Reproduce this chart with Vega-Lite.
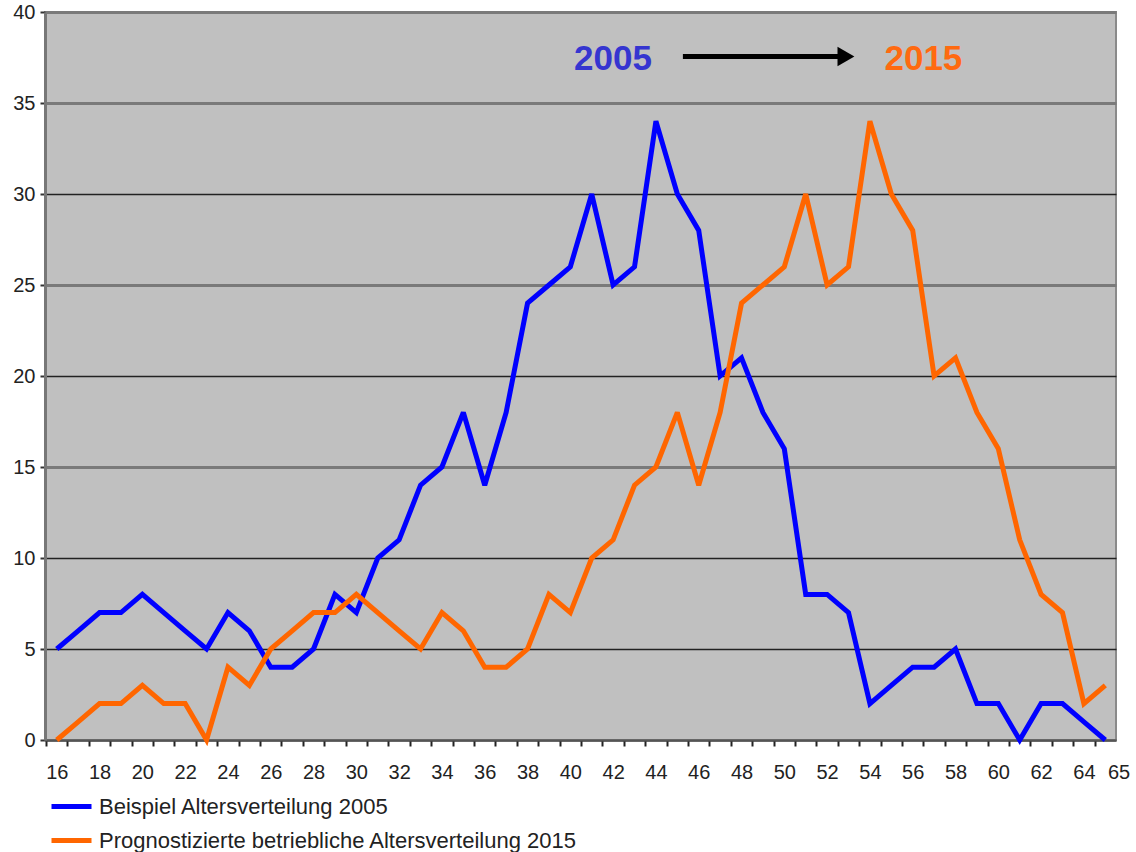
{
  "$schema": "https://vega.github.io/schema/vega-lite/v6.json",
  "width": 1071,
  "height": 728,
  "autosize": "none",
  "padding": {"left": 45, "top": 12, "right": 20, "bottom": 112},
  "background": "white",
  "config": {
    "font": "Liberation Sans",
    "view": {"fill": "#c0c0c0", "stroke": "#8a8a8a", "strokeWidth": 2}
  },
  "datasets": {
    "reihen": [
      {"alter":16,"anzahl":5,"reihe":"Beispiel Altersverteilung 2005"},
      {"alter":17,"anzahl":6,"reihe":"Beispiel Altersverteilung 2005"},
      {"alter":18,"anzahl":7,"reihe":"Beispiel Altersverteilung 2005"},
      {"alter":19,"anzahl":7,"reihe":"Beispiel Altersverteilung 2005"},
      {"alter":20,"anzahl":8,"reihe":"Beispiel Altersverteilung 2005"},
      {"alter":21,"anzahl":7,"reihe":"Beispiel Altersverteilung 2005"},
      {"alter":22,"anzahl":6,"reihe":"Beispiel Altersverteilung 2005"},
      {"alter":23,"anzahl":5,"reihe":"Beispiel Altersverteilung 2005"},
      {"alter":24,"anzahl":7,"reihe":"Beispiel Altersverteilung 2005"},
      {"alter":25,"anzahl":6,"reihe":"Beispiel Altersverteilung 2005"},
      {"alter":26,"anzahl":4,"reihe":"Beispiel Altersverteilung 2005"},
      {"alter":27,"anzahl":4,"reihe":"Beispiel Altersverteilung 2005"},
      {"alter":28,"anzahl":5,"reihe":"Beispiel Altersverteilung 2005"},
      {"alter":29,"anzahl":8,"reihe":"Beispiel Altersverteilung 2005"},
      {"alter":30,"anzahl":7,"reihe":"Beispiel Altersverteilung 2005"},
      {"alter":31,"anzahl":10,"reihe":"Beispiel Altersverteilung 2005"},
      {"alter":32,"anzahl":11,"reihe":"Beispiel Altersverteilung 2005"},
      {"alter":33,"anzahl":14,"reihe":"Beispiel Altersverteilung 2005"},
      {"alter":34,"anzahl":15,"reihe":"Beispiel Altersverteilung 2005"},
      {"alter":35,"anzahl":18,"reihe":"Beispiel Altersverteilung 2005"},
      {"alter":36,"anzahl":14,"reihe":"Beispiel Altersverteilung 2005"},
      {"alter":37,"anzahl":18,"reihe":"Beispiel Altersverteilung 2005"},
      {"alter":38,"anzahl":24,"reihe":"Beispiel Altersverteilung 2005"},
      {"alter":39,"anzahl":25,"reihe":"Beispiel Altersverteilung 2005"},
      {"alter":40,"anzahl":26,"reihe":"Beispiel Altersverteilung 2005"},
      {"alter":41,"anzahl":30,"reihe":"Beispiel Altersverteilung 2005"},
      {"alter":42,"anzahl":25,"reihe":"Beispiel Altersverteilung 2005"},
      {"alter":43,"anzahl":26,"reihe":"Beispiel Altersverteilung 2005"},
      {"alter":44,"anzahl":34,"reihe":"Beispiel Altersverteilung 2005"},
      {"alter":45,"anzahl":30,"reihe":"Beispiel Altersverteilung 2005"},
      {"alter":46,"anzahl":28,"reihe":"Beispiel Altersverteilung 2005"},
      {"alter":47,"anzahl":20,"reihe":"Beispiel Altersverteilung 2005"},
      {"alter":48,"anzahl":21,"reihe":"Beispiel Altersverteilung 2005"},
      {"alter":49,"anzahl":18,"reihe":"Beispiel Altersverteilung 2005"},
      {"alter":50,"anzahl":16,"reihe":"Beispiel Altersverteilung 2005"},
      {"alter":51,"anzahl":8,"reihe":"Beispiel Altersverteilung 2005"},
      {"alter":52,"anzahl":8,"reihe":"Beispiel Altersverteilung 2005"},
      {"alter":53,"anzahl":7,"reihe":"Beispiel Altersverteilung 2005"},
      {"alter":54,"anzahl":2,"reihe":"Beispiel Altersverteilung 2005"},
      {"alter":55,"anzahl":3,"reihe":"Beispiel Altersverteilung 2005"},
      {"alter":56,"anzahl":4,"reihe":"Beispiel Altersverteilung 2005"},
      {"alter":57,"anzahl":4,"reihe":"Beispiel Altersverteilung 2005"},
      {"alter":58,"anzahl":5,"reihe":"Beispiel Altersverteilung 2005"},
      {"alter":59,"anzahl":2,"reihe":"Beispiel Altersverteilung 2005"},
      {"alter":60,"anzahl":2,"reihe":"Beispiel Altersverteilung 2005"},
      {"alter":61,"anzahl":0,"reihe":"Beispiel Altersverteilung 2005"},
      {"alter":62,"anzahl":2,"reihe":"Beispiel Altersverteilung 2005"},
      {"alter":63,"anzahl":2,"reihe":"Beispiel Altersverteilung 2005"},
      {"alter":64,"anzahl":1,"reihe":"Beispiel Altersverteilung 2005"},
      {"alter":65,"anzahl":0,"reihe":"Beispiel Altersverteilung 2005"},
      {"alter":16,"anzahl":0,"reihe":"Prognostizierte betriebliche Altersverteilung 2015"},
      {"alter":17,"anzahl":1,"reihe":"Prognostizierte betriebliche Altersverteilung 2015"},
      {"alter":18,"anzahl":2,"reihe":"Prognostizierte betriebliche Altersverteilung 2015"},
      {"alter":19,"anzahl":2,"reihe":"Prognostizierte betriebliche Altersverteilung 2015"},
      {"alter":20,"anzahl":3,"reihe":"Prognostizierte betriebliche Altersverteilung 2015"},
      {"alter":21,"anzahl":2,"reihe":"Prognostizierte betriebliche Altersverteilung 2015"},
      {"alter":22,"anzahl":2,"reihe":"Prognostizierte betriebliche Altersverteilung 2015"},
      {"alter":23,"anzahl":0,"reihe":"Prognostizierte betriebliche Altersverteilung 2015"},
      {"alter":24,"anzahl":4,"reihe":"Prognostizierte betriebliche Altersverteilung 2015"},
      {"alter":25,"anzahl":3,"reihe":"Prognostizierte betriebliche Altersverteilung 2015"},
      {"alter":26,"anzahl":5,"reihe":"Prognostizierte betriebliche Altersverteilung 2015"},
      {"alter":27,"anzahl":6,"reihe":"Prognostizierte betriebliche Altersverteilung 2015"},
      {"alter":28,"anzahl":7,"reihe":"Prognostizierte betriebliche Altersverteilung 2015"},
      {"alter":29,"anzahl":7,"reihe":"Prognostizierte betriebliche Altersverteilung 2015"},
      {"alter":30,"anzahl":8,"reihe":"Prognostizierte betriebliche Altersverteilung 2015"},
      {"alter":31,"anzahl":7,"reihe":"Prognostizierte betriebliche Altersverteilung 2015"},
      {"alter":32,"anzahl":6,"reihe":"Prognostizierte betriebliche Altersverteilung 2015"},
      {"alter":33,"anzahl":5,"reihe":"Prognostizierte betriebliche Altersverteilung 2015"},
      {"alter":34,"anzahl":7,"reihe":"Prognostizierte betriebliche Altersverteilung 2015"},
      {"alter":35,"anzahl":6,"reihe":"Prognostizierte betriebliche Altersverteilung 2015"},
      {"alter":36,"anzahl":4,"reihe":"Prognostizierte betriebliche Altersverteilung 2015"},
      {"alter":37,"anzahl":4,"reihe":"Prognostizierte betriebliche Altersverteilung 2015"},
      {"alter":38,"anzahl":5,"reihe":"Prognostizierte betriebliche Altersverteilung 2015"},
      {"alter":39,"anzahl":8,"reihe":"Prognostizierte betriebliche Altersverteilung 2015"},
      {"alter":40,"anzahl":7,"reihe":"Prognostizierte betriebliche Altersverteilung 2015"},
      {"alter":41,"anzahl":10,"reihe":"Prognostizierte betriebliche Altersverteilung 2015"},
      {"alter":42,"anzahl":11,"reihe":"Prognostizierte betriebliche Altersverteilung 2015"},
      {"alter":43,"anzahl":14,"reihe":"Prognostizierte betriebliche Altersverteilung 2015"},
      {"alter":44,"anzahl":15,"reihe":"Prognostizierte betriebliche Altersverteilung 2015"},
      {"alter":45,"anzahl":18,"reihe":"Prognostizierte betriebliche Altersverteilung 2015"},
      {"alter":46,"anzahl":14,"reihe":"Prognostizierte betriebliche Altersverteilung 2015"},
      {"alter":47,"anzahl":18,"reihe":"Prognostizierte betriebliche Altersverteilung 2015"},
      {"alter":48,"anzahl":24,"reihe":"Prognostizierte betriebliche Altersverteilung 2015"},
      {"alter":49,"anzahl":25,"reihe":"Prognostizierte betriebliche Altersverteilung 2015"},
      {"alter":50,"anzahl":26,"reihe":"Prognostizierte betriebliche Altersverteilung 2015"},
      {"alter":51,"anzahl":30,"reihe":"Prognostizierte betriebliche Altersverteilung 2015"},
      {"alter":52,"anzahl":25,"reihe":"Prognostizierte betriebliche Altersverteilung 2015"},
      {"alter":53,"anzahl":26,"reihe":"Prognostizierte betriebliche Altersverteilung 2015"},
      {"alter":54,"anzahl":34,"reihe":"Prognostizierte betriebliche Altersverteilung 2015"},
      {"alter":55,"anzahl":30,"reihe":"Prognostizierte betriebliche Altersverteilung 2015"},
      {"alter":56,"anzahl":28,"reihe":"Prognostizierte betriebliche Altersverteilung 2015"},
      {"alter":57,"anzahl":20,"reihe":"Prognostizierte betriebliche Altersverteilung 2015"},
      {"alter":58,"anzahl":21,"reihe":"Prognostizierte betriebliche Altersverteilung 2015"},
      {"alter":59,"anzahl":18,"reihe":"Prognostizierte betriebliche Altersverteilung 2015"},
      {"alter":60,"anzahl":16,"reihe":"Prognostizierte betriebliche Altersverteilung 2015"},
      {"alter":61,"anzahl":11,"reihe":"Prognostizierte betriebliche Altersverteilung 2015"},
      {"alter":62,"anzahl":8,"reihe":"Prognostizierte betriebliche Altersverteilung 2015"},
      {"alter":63,"anzahl":7,"reihe":"Prognostizierte betriebliche Altersverteilung 2015"},
      {"alter":64,"anzahl":2,"reihe":"Prognostizierte betriebliche Altersverteilung 2015"},
      {"alter":65,"anzahl":3,"reihe":"Prognostizierte betriebliche Altersverteilung 2015"}
    ],
    "jahre": [
      {"alter": 41.99, "anzahl": 37.4, "jahr": "2005"},
      {"alter": 56.5, "anzahl": 37.4, "jahr": "2015"}
    ],
    "pfeil": [
      {"von": 45.26, "bis": 52.6, "spitze": 52.88, "anzahl": 37.55}
    ]
  },
  "layer": [
    {
      "data": {"name": "reihen"},
      "mark": {"type": "line", "strokeWidth": 5, "strokeJoin": "miter", "strokeMiterLimit": 3},
      "encoding": {
        "x": {
          "field": "alter", "type": "quantitative",
          "scale": {"domain": [15.45, 65.5], "nice": false, "zero": false},
          "axis": {
            "title": null,
            "values": [16,17,18,19,20,21,22,23,24,25,26,27,28,29,30,31,32,33,34,35,36,37,38,39,40,41,42,43,44,45,46,47,48,49,50,51,52,53,54,55,56,57,58,59,60,61,62,63,64,65],
            "tickCount": 200,
            "format": "d",
            "labelExpr": "(datum.value % 2 == 0 || datum.value == 65) ? datum.label : ''",
            "tickOffset": -10.7,
            "labelOffset": {"condition": {"test": "datum.value == 65", "value": 24}, "value": 10.7},
            "labelFlush": false,
            "labelOverlap": false,
            "labelBound": false,
            "grid": false,
            "domain": true,
            "domainColor": "#555555",
            "domainWidth": 2,
            "tickColor": "#222222",
            "tickWidth": 2,
            "tickSize": 6,
            "labelFontSize": 20,
            "labelColor": "#222222",
            "labelPadding": 16
          }
        },
        "y": {
          "field": "anzahl", "type": "quantitative",
          "scale": {"domain": [0, 40], "nice": false},
          "axis": {
            "title": null,
            "values": [0,5,10,15,20,25,30,35,40],
            "grid": true,
            "gridColor": {"condition": {"test": "datum.value == 30 || datum.value == 20 || datum.value == 10 || datum.value == 5", "value": "#222222"}, "value": "#7a7a7a"},
            "gridWidth": {"condition": {"test": "datum.value == 30 || datum.value == 20 || datum.value == 10 || datum.value == 5", "value": 1.5}, "value": 3},
            "domainColor": "#777777",
            "domainWidth": 3,
            "tickColor": "#333333",
            "tickWidth": 2,
            "tickSize": 5,
            "labelFontSize": 20,
            "labelColor": "#222222",
            "labelPadding": 5
          }
        },
        "color": {
          "field": "reihe", "type": "nominal",
          "scale": {
            "domain": ["Beispiel Altersverteilung 2005", "Prognostizierte betriebliche Altersverteilung 2015"],
            "range": ["#0000ff", "#ff6600"]
          },
          "legend": {
            "title": null,
            "orient": "none",
            "legendX": 4,
            "legendY": 772,
            "direction": "vertical",
            "symbolType": "stroke",
            "symbolSize": 1600,
            "symbolStrokeWidth": 5,
            "labelFontSize": 22,
            "labelColor": "#222222",
            "labelOffset": 5,
            "rowPadding": -4,
            "labelLimit": 1000
          }
        }
      }
    },
    {
      "data": {"name": "pfeil"},
      "mark": {"type": "rule", "color": "black", "strokeWidth": 5},
      "encoding": {
        "x": {"field": "von", "type": "quantitative"},
        "x2": {"field": "bis"},
        "y": {"field": "anzahl", "type": "quantitative"}
      }
    },
    {
      "data": {"name": "pfeil"},
      "mark": {"type": "point", "shape": "triangle-right", "filled": true, "color": "black", "size": 380, "opacity": 1},
      "encoding": {
        "x": {"field": "spitze", "type": "quantitative"},
        "y": {"field": "anzahl", "type": "quantitative"}
      }
    },
    {
      "data": {"name": "jahre"},
      "transform": [{"filter": "datum.jahr == '2005'"}],
      "mark": {"type": "text", "fontSize": 35, "fontWeight": "bold", "color": "#3535d0", "align": "center", "baseline": "middle"},
      "encoding": {
        "x": {"field": "alter", "type": "quantitative"},
        "y": {"field": "anzahl", "type": "quantitative"},
        "text": {"field": "jahr"}
      }
    },
    {
      "data": {"name": "jahre"},
      "transform": [{"filter": "datum.jahr == '2015'"}],
      "mark": {"type": "text", "fontSize": 35, "fontWeight": "bold", "color": "#ff6a10", "align": "center", "baseline": "middle"},
      "encoding": {
        "x": {"field": "alter", "type": "quantitative"},
        "y": {"field": "anzahl", "type": "quantitative"},
        "text": {"field": "jahr"}
      }
    }
  ]
}
